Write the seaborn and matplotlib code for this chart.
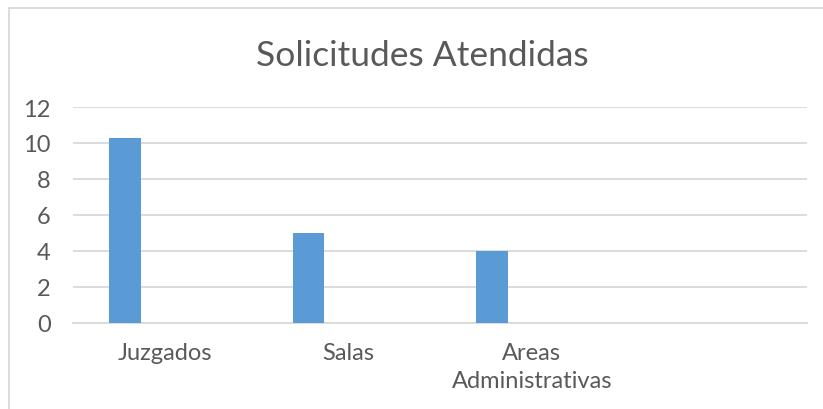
import pandas as pd
import seaborn as sns
import matplotlib.pyplot as plt
from matplotlib.lines import Line2D

# data
categories = ["Juzgados", "Salas", "Areas\nAdministrativas"]
series_names = ["Serie1", "Serie2", "Serie3"]
serie1 = [10.3, 5, 4]
serie2 = [0, 0, 0]
serie3 = [0, 0, 0]
y_ticks = [0, 2, 4, 6, 8, 10, 12]

TEXT = "#595959"
GRID = "#D9D9D9"
BAR = "#5B9BD5"


def main():
    df = pd.DataFrame({
        "categoria": categories * 3,
        "serie": [series_names[0]] * 3 + [series_names[1]] * 3 + [series_names[2]] * 3,
        "valor": serie1 + serie2 + serie3,
    })

    sns.set_style("white")
    plt.rcParams["font.family"] = ["Lato", "DejaVu Sans"]

    fig = plt.figure(figsize=(8.23, 4.10), dpi=100)
    ax = fig.add_axes([73 / 823, 1 - 324 / 410, (807 - 73) / 823, (324 - 108) / 410])

    sns.barplot(data=df, x="categoria", y="valor", hue="serie", order=categories,
                palette=[BAR, BAR, BAR], saturation=1, width=0.65, gap=0.2,
                legend=False, errorbar=None, linewidth=0, ax=ax, zorder=3)

    ax.set_xlim(-0.5, 3.5)
    ax.set_ylim(0, 12)
    ax.set_yticks(y_ticks)
    ax.yaxis.grid(True, color=GRID, linewidth=1.3, zorder=0)
    ax.set_axisbelow(True)
    for s in ["top", "right", "left"]:
        ax.spines[s].set_visible(False)
    ax.spines["bottom"].set_color(GRID)
    ax.spines["bottom"].set_linewidth(1.3)

    ax.set_xlabel("")
    ax.set_ylabel("")
    ax.tick_params(axis="y", length=0, pad=16, labelsize=17, labelcolor=TEXT)
    ax.tick_params(axis="x", length=0, pad=14, labelsize=17, labelcolor=TEXT)
    for lbl in ax.get_xticklabels():
        lbl.set_linespacing(1.4)

    fig.text(422 / 823, 1 - 56 / 410, "Solicitudes Atendidas", ha="center", va="center",
             fontsize=25.5, color=TEXT)

    # chart area border (only top and left visible)
    fig.add_artist(Line2D([9 / 823, 1], [1 - 9 / 410] * 2, transform=fig.transFigure,
                          color=GRID, linewidth=1.3))
    fig.add_artist(Line2D([9 / 823] * 2, [0, 1 - 9 / 410], transform=fig.transFigure,
                          color=GRID, linewidth=1.3))

    fig.savefig("out.png", dpi=100)


if __name__ == "__main__":
    main()
